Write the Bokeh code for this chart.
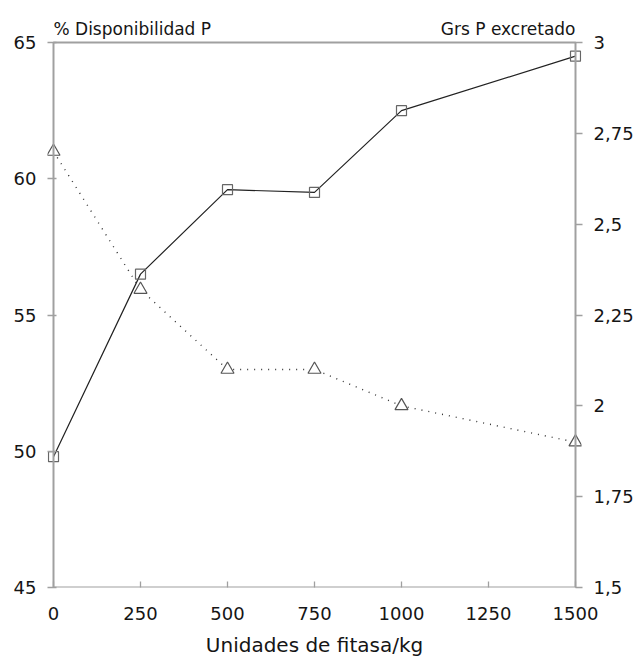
from bokeh.plotting import figure
from bokeh.models import (Range1d, LinearAxis, FixedTicker, CustomJSTickFormatter,
                          Label, BoxAnnotation)
from bokeh.embed import file_html
from bokeh.resources import INLINE

# ---- data ----
fitasa = [0, 250, 500, 750, 1000, 1500]                 # Unidades de fitasa/kg
disponibilidad = [49.8, 56.5, 59.6, 59.5, 62.5, 64.5]  # % Disponibilidad P (left axis)
excretado = [2.70, 2.32, 2.10, 2.10, 2.00, 1.90]       # Grs P excretado (right axis)

x_ticks = [0, 250, 500, 750, 1000, 1250, 1500]
left_ticks = [45, 50, 55, 60, 65]
right_ticks = [1.5, 1.75, 2.0, 2.25, 2.5, 2.75, 3.0]

x_lo, x_hi = 0, 1500
yl_lo, yl_hi = 45, 65
yr_lo, yr_hi = 1.5, 3.0

# ---- layout (pixels) ----
W, H = 640, 661
box_l, box_r, box_t, box_b = 53, 575, 42, 587   # visible axes box on the page
xpad = 6                                         # keeps edge markers unclipped
frame_top = 2                                    # frame reaches up to hold the headers
vis_w, vis_h = box_r - box_l, box_b - box_t
px = (x_hi - x_lo) * xpad / vis_w
top_extra = (box_t - frame_top) / vis_h

FONT = "DejaVu Sans"
TXT = "#151515"
AX = "#a0a0a0"

p = figure(width=W, height=H, output_backend="svg", toolbar_location=None,
           x_range=Range1d(x_lo - px, x_hi + px),
           y_range=Range1d(yl_lo, yl_hi + (yl_hi - yl_lo) * top_extra),
           x_axis_location=None, y_axis_location=None,
           min_border_left=box_l - xpad, min_border_right=W - (box_r + xpad),
           min_border_top=frame_top, min_border_bottom=H - box_b)
p.extra_y_ranges = {"right": Range1d(yr_lo, yr_hi + (yr_hi - yr_lo) * top_extra)}
p.outline_line_color = None
p.xgrid.visible = False
p.ygrid.visible = False
p.background_fill_color = "white"
p.border_fill_color = "white"

def style(ax):
    ax.axis_line_color = None
    ax.major_tick_line_color = AX
    ax.major_tick_line_width = 1.3
    ax.minor_tick_line_color = None
    ax.major_label_text_font = FONT
    ax.major_label_text_font_size = "18px"
    ax.major_label_text_color = TXT

left = LinearAxis(ticker=FixedTicker(ticks=left_ticks), bounds=(yl_lo, yl_hi))
style(left)
left.major_tick_out = 0
left.major_tick_in = 9
left.major_label_standoff = 11
p.add_layout(left, "left")

right = LinearAxis(y_range_name="right", ticker=FixedTicker(ticks=right_ticks),
                   bounds=(yr_lo, yr_hi),
                   formatter=CustomJSTickFormatter(code="return tick.toString().replace('.', ',');"))
style(right)
right.major_tick_out = 1
right.major_tick_in = 6
right.major_label_standoff = 11
p.add_layout(right, "right")

bottom = LinearAxis(ticker=FixedTicker(ticks=x_ticks), bounds=(x_lo, x_hi),
                    axis_label="Unidades de fitasa/kg")
style(bottom)
bottom.major_tick_out = 0
bottom.major_tick_in = 6
bottom.major_label_standoff = 19
bottom.axis_label_standoff = 10
bottom.axis_label_text_font = FONT
bottom.axis_label_text_font_size = "20px"
bottom.axis_label_text_font_style = "normal"
bottom.axis_label_text_color = TXT
p.add_layout(bottom, "below")

# axes box
p.add_layout(BoxAnnotation(left=x_lo, right=x_hi, bottom=yl_lo, top=yl_hi,
                           fill_color=None, fill_alpha=0,
                           line_color=AX, line_alpha=1.0, line_width=2))

# ---- series ----
p.line(fitasa, disponibilidad, line_color="#222222", line_width=1.2)
p.scatter(fitasa, disponibilidad, marker="square", size=10, fill_color=None,
          line_color="#666666", line_width=1.2)

p.line(fitasa, excretado, y_range_name="right", line_color="#333333",
       line_width=1.4, line_dash="1 6")
p.scatter(fitasa, excretado, y_range_name="right", marker="triangle", size=13,
          fill_color="white", line_color="#555555", line_width=1.2)

# ---- headers ----
p.add_layout(Label(x=x_lo, y=yl_hi, y_offset=14, text="% Disponibilidad P",
                   text_font=FONT, text_font_size="17px", text_color=TXT,
                   text_align="left", text_baseline="alphabetic"))
p.add_layout(Label(x=x_hi, y=yl_hi, y_offset=14, text="Grs P excretado",
                   text_font=FONT, text_font_size="17px", text_color=TXT,
                   text_align="right", text_baseline="alphabetic"))

open("out.html", "w").write(file_html(p, INLINE))
